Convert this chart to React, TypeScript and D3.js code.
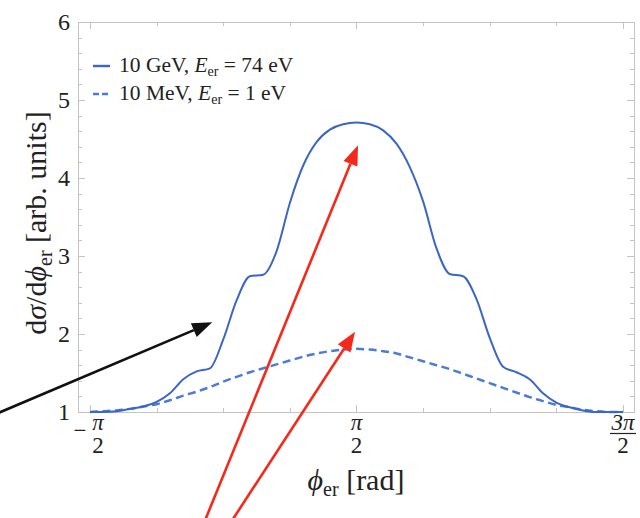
import React, { useRef, useEffect } from "react";
import * as d3 from "d3";

// phi sample points, in units of pi
const phiOverPi = [
  -0.5, -0.45, -0.4, -0.35, -0.3, -0.25, -0.2, -0.15, -0.1, -0.05, 0, 0.05, 0.1, 0.15, 0.2, 0.25, 0.3,
  0.35, 0.4, 0.45, 0.5, 0.55, 0.6, 0.65, 0.7, 0.75, 0.8, 0.85, 0.9, 0.95, 1, 1.05, 1.1, 1.15, 1.2,
  1.25, 1.3, 1.35, 1.4, 1.45, 1.5,
];
// 10 GeV, E_er = 74 eV (solid)
const gevValues = [
  1.0, 1.0, 1.01, 1.04, 1.07, 1.13, 1.24, 1.42, 1.52, 1.56, 1.93, 2.43, 2.74, 2.76, 3.06, 3.68, 4.16,
  4.46, 4.62, 4.69, 4.71, 4.69, 4.61, 4.44, 4.14, 3.7, 3.1, 2.77, 2.74, 2.45, 1.95, 1.58, 1.51, 1.42,
  1.24, 1.12, 1.06, 1.02, 1.0, 1.0, 1.0,
];
// 10 MeV, E_er = 1 eV (dashed)
const mevValues = [
  1.0, 1.01, 1.02, 1.04, 1.07, 1.1, 1.15, 1.21, 1.26, 1.32, 1.39, 1.45, 1.51, 1.56, 1.61, 1.66, 1.71,
  1.75, 1.78, 1.8, 1.81, 1.8, 1.78, 1.75, 1.7, 1.65, 1.6, 1.55, 1.49, 1.43, 1.37, 1.31, 1.25, 1.19,
  1.14, 1.09, 1.06, 1.03, 1.01, 1.0, 1.0,
];
const yMajorTicks = [1, 2, 3, 4, 5, 6];
const xMajorTicksOverPi = [-0.5, 0.5, 1.5];
const xTickLabels = [
  { sign: "\u2212", num: "\u03c0", bar: false },
  { sign: "", num: "\u03c0", bar: false },
  { sign: "", num: "3\u03c0", bar: true },
];
const xMinorTicksOverPi = [-0.25, 0, 0.25, 0.75, 1, 1.25];
// annotation arrows in data coordinates [phi, value]
const blackArrows = [[[-2.69, 0.97], [-0.13, 2.15]]];
const redArrows = [
  [[-0.215, -0.39], [1.589, 4.42]],
  [[0.104, -0.39], [1.554, 2.03]],
];

const W = 640;
const H = 518;
const PI = Math.PI;

const App = () => {
  const ref = useRef(null);

  useEffect(() => {
    const svg = d3.select(ref.current);
    svg.selectAll("*").remove();
    const font = "'Liberation Serif', 'Times New Roman', serif";
    const frameColor = "#c4c4c4";

    const x = d3.scaleLinear().domain([-PI / 2 - 0.1415, (3 * PI) / 2 + 0.13]).range([78, 634]);
    const y = d3.scaleLinear().domain([1, 6]).range([412, 22]);
    const [x0, x1] = x.range();
    const [y0, y1] = y.range();

    const g = svg.append("g");

    // frame
    g.append("rect")
      .attr("x", x0 + 0.5)
      .attr("y", y1 + 0.5)
      .attr("width", x1 - x0)
      .attr("height", y0 - y1)
      .attr("fill", "none")
      .attr("stroke", frameColor)
      .attr("stroke-width", 1);

    // x ticks (bottom and top)
    const xTick = (v, len) => {
      const px = Math.round(x(v)) + 0.5;
      g.append("line").attr("x1", px).attr("x2", px).attr("y1", y0).attr("y2", y0 - len).attr("stroke", frameColor);
      g.append("line").attr("x1", px).attr("x2", px).attr("y1", y1).attr("y2", y1 + len).attr("stroke", frameColor);
    };
    xMajorTicksOverPi.forEach((t) => xTick(t * PI, 7));
    xMinorTicksOverPi.forEach((t) => xTick(t * PI, 4));

    // y ticks (left and right)
    const yMinor = d3.range(1, 6.001, 0.2).filter((v) => !yMajorTicks.some((m) => Math.abs(m - v) < 1e-6));
    const yTick = (v, len) => {
      const py = Math.round(y(v)) + 0.5;
      g.append("line").attr("x1", x0).attr("x2", x0 + len).attr("y1", py).attr("y2", py).attr("stroke", frameColor);
      g.append("line").attr("x1", x1).attr("x2", x1 - len).attr("y1", py).attr("y2", py).attr("stroke", frameColor);
    };
    yMajorTicks.forEach((t) => yTick(t, 7));
    yMinor.forEach((t) => yTick(t, 4));

    // y tick labels
    yMajorTicks.forEach((t) => {
      g.append("text")
        .attr("x", 70)
        .attr("y", y(t) + 8)
        .attr("text-anchor", "end")
        .attr("font-family", font)
        .attr("font-size", 24)
        .attr("fill", "#222")
        .text(t);
    });

    // x tick labels as fractions (one text element per label)
    xMajorTicksOverPi.forEach((t, i) => {
      const lab = xTickLabels[i];
      const cx = x(t * PI) + (lab.sign ? 8 : 0);
      const lt = g.append("text")
        .attr("font-family", font)
        .attr("font-size", 23)
        .attr("fill", "#222")
        .attr("text-anchor", "middle");
      if (lab.sign) {
        lt.append("tspan").attr("x", cx - 18).attr("y", 438).text(lab.sign);
      }
      lt.append("tspan").attr("x", cx).attr("y", 430).attr("font-style", "italic").text(lab.num);
      lt.append("tspan").attr("x", cx).attr("y", 453).text("2");
      if (lab.bar) {
        g.append("line").attr("x1", cx - 13).attr("x2", cx + 13).attr("y1", 433.5).attr("y2", 433.5).attr("stroke", "#222").attr("stroke-width", 1.2);
      }
    });

    // axis labels
    const xl = g.append("text")
      .attr("x", 356)
      .attr("y", 490)
      .attr("text-anchor", "middle")
      .attr("font-family", font)
      .attr("font-size", 30)
      .attr("fill", "#222");
    xl.append("tspan").attr("font-style", "italic").text("\u03d5");
    xl.append("tspan").attr("font-size", 20).attr("dy", 6).text("er");
    xl.append("tspan").attr("dy", -6).text(" [rad]");

    const yl = g.append("text")
      .attr("transform", "translate(46,223) rotate(-90)")
      .attr("text-anchor", "middle")
      .attr("font-family", font)
      .attr("font-size", 30)
      .attr("fill", "#222");
    yl.append("tspan").text("d");
    yl.append("tspan").attr("font-style", "italic").text("\u03c3");
    yl.append("tspan").text("/d");
    yl.append("tspan").attr("font-style", "italic").text("\u03d5");
    yl.append("tspan").attr("font-size", 20).attr("dy", 6).text("er");
    yl.append("tspan").attr("dy", -6).text(" [arb. units]");

    // curves
    const line = d3
      .line()
      .x((d) => x(d[0] * PI))
      .y((d) => y(d[1]))
      .curve(d3.curveMonotoneX);

    g.append("path")
      .attr("d", line(phiOverPi.map((p, i) => [p, mevValues[i]])))
      .attr("fill", "none")
      .attr("stroke", "#4a7bd8")
      .attr("stroke-width", 2.5)
      .attr("stroke-dasharray", "8,4.5");

    g.append("path")
      .attr("d", line(phiOverPi.map((p, i) => [p, gevValues[i]])))
      .attr("fill", "none")
      .attr("stroke", "#3a66c8")
      .attr("stroke-width", 2);

    // legend
    const legend = [
      { label: "10 GeV", e: "74 eV", dash: null, color: "#3a66c8", ly: 66 },
      { label: "10 MeV", e: "1 eV", dash: "6,3", color: "#4a7bd8", ly: 94 },
    ];
    legend.forEach((l) => {
      g.append("line")
        .attr("x1", 93)
        .attr("x2", 110)
        .attr("y1", l.ly)
        .attr("y2", l.ly)
        .attr("stroke", l.color)
        .attr("stroke-width", 2.4)
        .attr("stroke-dasharray", l.dash);
      const t = g.append("text")
        .attr("x", 119)
        .attr("y", l.ly + 6)
        .attr("font-family", font)
        .attr("font-size", 21.5)
        .attr("fill", "#222");
      t.append("tspan").text(`${l.label}, `);
      t.append("tspan").attr("font-style", "italic").text("E");
      t.append("tspan").attr("font-size", 14).attr("dy", 4).text("er");
      t.append("tspan").attr("dy", -4).text(` = ${l.e}`);
    });

    // arrows
    const drawArrow = (a, color) => {
      const [sx, sy] = [x(a[0][0]), y(a[0][1])];
      const [tx, ty] = [x(a[1][0]), y(a[1][1])];
      const ang = Math.atan2(ty - sy, tx - sx);
      const hl = 20;
      const hw = 7.5;
      const bx = tx - hl * Math.cos(ang);
      const by = ty - hl * Math.sin(ang);
      g.append("line")
        .attr("x1", sx)
        .attr("y1", sy)
        .attr("x2", bx)
        .attr("y2", by)
        .attr("stroke", color)
        .attr("stroke-width", 2.6);
      const px = -Math.sin(ang);
      const py = Math.cos(ang);
      g.append("polygon")
        .attr(
          "points",
          [
            [tx, ty],
            [bx + hw * px, by + hw * py],
            [bx - hw * px, by - hw * py],
          ]
            .map((p) => p.join(","))
            .join(" ")
        )
        .attr("fill", color);
    };
    blackArrows.forEach((a) => drawArrow(a, "#111"));
    redArrows.forEach((a) => drawArrow(a, "#f5291b"));
  }, []);

  return (
    <svg
      ref={ref}
      width={W}
      height={H}
      style={{ position: "absolute", left: 0, top: 0, background: "#fff" }}
    ></svg>
  );
};

export default App;
